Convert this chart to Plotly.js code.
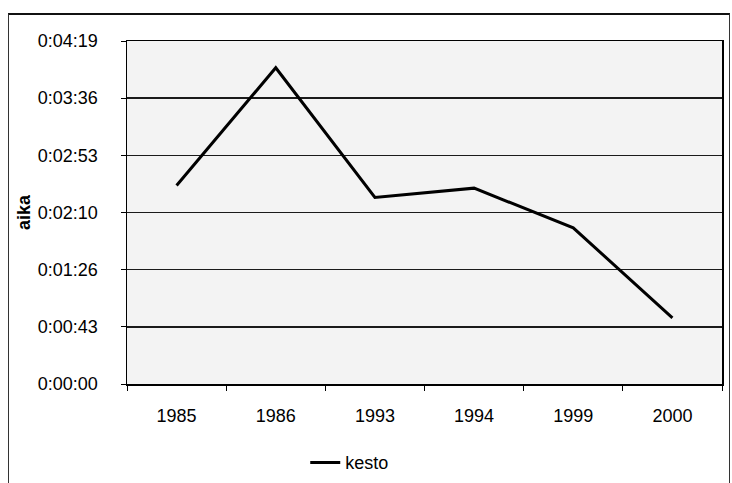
<!DOCTYPE html>
<html>
<head>
<meta charset="utf-8">
<script src="https://cdn.plot.ly/plotly-3.0.1.min.js"></script>
<style>
  html, body { margin: 0; padding: 0; background: #fff; }
  #wrap { position: relative; width: 732px; height: 483px; }
  #frame { position: absolute; left: 8px; top: 13px; width: 722px; height: 480px;
           border-top: 2px solid #111; border-left: 1px solid #333; border-right: 1px solid #333;
           box-sizing: border-box; pointer-events: none; z-index: 5; }
  #chart { position: absolute; left: 0; top: 0; width: 732px; height: 483px; }
</style>
</head>
<body>
<div id="wrap">
  <div id="chart"></div>
  <div id="frame"></div>
</div>
<script>
// Categories (years) and durations in seconds
const years = ['1985', '1986', '1993', '1994', '1999', '2000'];
const kestoSeconds = [150, 239, 141, 148, 118, 50];
// Y-axis tick values (seconds) and labels
const yTickVals = [0, 43.2, 86.4, 129.6, 172.8, 216, 259.2];
const yTickText = ['0:00:00', '0:00:43', '0:01:26', '0:02:10', '0:02:53', '0:03:36', '0:04:19'];

const fontFam = '"Liberation Sans", Arial, sans-serif';
const fs = 18;

const trace = {
  x: years,
  y: kestoSeconds,
  type: 'scatter',
  mode: 'lines',
  name: 'kesto',
  line: { color: '#000', width: 3 },
  hoverinfo: 'skip'
};

const layout = {
  width: 732,
  height: 483,
  margin: { l: 127, r: 10, t: 41, b: 99 },
  paper_bgcolor: 'rgba(0,0,0,0)',
  plot_bgcolor: '#f3f3f3',
  font: { family: fontFam, size: fs, color: '#000' },
  showlegend: true,
  legend: {
    orientation: 'h',
    x: 0.417, xanchor: 'left', xref: 'container',
    y: 0.042, yanchor: 'middle', yref: 'container',
    font: { family: fontFam, size: fs, color: '#000' },
    bgcolor: 'rgba(0,0,0,0)'
  },
  xaxis: {
    type: 'category',
    range: [-0.5, 5.5],
    tickson: 'boundaries',
    ticks: 'outside',
    ticklen: 5,
    tickcolor: '#000',
    showline: true,
    linecolor: '#000',
    linewidth: 1.5,
    mirror: true,
    showgrid: false,
    ticklabelstandoff: 15,
    tickfont: { family: fontFam, size: fs, color: '#000' },
    fixedrange: true
  },
  yaxis: {
    range: [0, 259.2],
    tickvals: yTickVals,
    ticktext: yTickText,
    ticks: 'outside',
    ticklen: 5,
    tickcolor: '#000',
    showline: true,
    linecolor: '#000',
    linewidth: 1.5,
    mirror: true,
    showgrid: true,
    gridcolor: '#1a1a1a',
    gridwidth: 1.6,
    zeroline: false,
    ticklabelstandoff: 19,
    tickfont: { family: fontFam, size: fs, color: '#000' },
    title: { text: 'aika', font: { family: fontFam, size: fs, color: '#000', weight: 'bold' }, standoff: 2 },
    fixedrange: true
  }
};

Plotly.newPlot('chart', [trace], layout, { staticPlot: true, displayModeBar: false });
</script>
</body>
</html>
